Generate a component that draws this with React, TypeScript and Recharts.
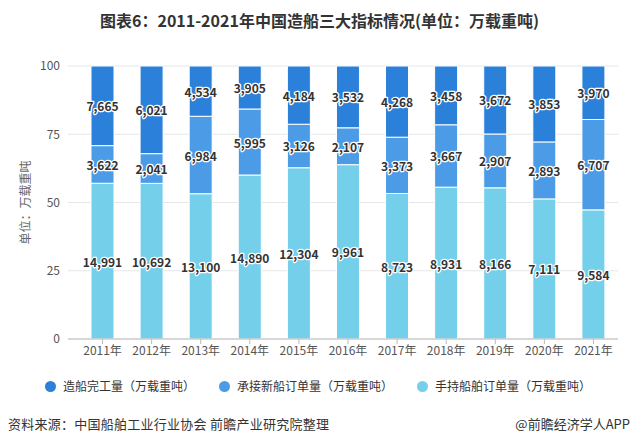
import React from 'react'
import { BarChart, Bar, XAxis, YAxis, CartesianGrid, LabelList } from 'recharts'

const years = ['2011年', '2012年', '2013年', '2014年', '2015年', '2016年', '2017年', '2018年', '2019年', '2020年', '2021年']
const completed = [7665, 6021, 4534, 3905, 4184, 3532, 4268, 3458, 3672, 3853, 3970]
const newOrders = [3622, 2041, 6984, 5995, 3126, 2107, 3373, 3667, 2907, 2893, 6707]
const holding = [14991, 10692, 13100, 14890, 12304, 9961, 8723, 8931, 8166, 7111, 9584]
const yTicks = [0, 0.25, 0.5, 0.75, 1]

const series = [
  { key: 'completed', name: '造船完工量（万载重吨）', color: '#2b80d9' },
  { key: 'newOrders', name: '承接新船订单量（万载重吨）', color: '#4c9be6' },
  { key: 'holding', name: '手持船舶订单量（万载重吨）', color: '#74cfea' },
]

const data = years.map((year, i) => ({
  year,
  completed: completed[i],
  newOrders: newOrders[i],
  holding: holding[i],
}))

const FONT = '"Noto Sans CJK SC", "Noto Sans", sans-serif'

const renderLabel = (props: any) => {
  const { x, y, width, height, value } = props
  return (
    <text
      x={x + width / 2}
      y={y + height / 2}
      textAnchor="middle"
      dominantBaseline="central"
      fontSize={12}
      fontWeight="bold"
      fontFamily={FONT}
      fill="#333"
      stroke="#fff"
      strokeWidth={2.5}
      strokeLinejoin="round"
      paintOrder="stroke"
    >
      {Number(value).toLocaleString('en-US')}
    </text>
  )
}

// legend lists bottom series last, so draw stacks bottom-up
const stackOrder = [...series].reverse()

export default function App() {
  return (
    <div style={{ position: 'absolute', left: 0, top: 0, width: 635, height: 442, background: '#fff', fontFamily: FONT }}>
      <div style={{ position: 'absolute', top: 8, left: 2, width: 635, textAlign: 'center', fontSize: 16, fontWeight: 'bold', color: '#333' }}>
        图表6：2011-2021年中国造船三大指标情况(单位：万载重吨)
      </div>

      <div style={{ position: 'absolute', left: 0, top: 0 }}>
        <BarChart
          width={635}
          height={442}
          data={data}
          stackOffset="expand"
          margin={{ top: 66, right: 17, bottom: 73, left: 0 }}
          barSize={23}
        >
          <CartesianGrid vertical={false} stroke="#e6e6e6" />
          <XAxis
            dataKey="year"
            padding={{ left: 10, right: 0 }}
            tick={{ fill: '#555', fontSize: 12, fontFamily: FONT }}
            tickLine={{ stroke: '#bbb' }}
            tickSize={5}
            axisLine={{ stroke: '#bbb' }}
            interval={0}
          />
          <YAxis
            width={68}
            ticks={yTicks}
            domain={[0, 1]}
            tickFormatter={(v) => String(Math.round(v * 100))}
            tick={{ fill: '#555', fontSize: 12, fontFamily: FONT }}
            tickLine={false}
            axisLine={false}
            label={{ value: '单位：万载重吨', angle: -90, position: 'center', dx: -8, fill: '#666', fontSize: 12, fontFamily: FONT }}
          />
          {stackOrder.map((s) => (
            <Bar key={s.key} dataKey={s.key} name={s.name} stackId="a" fill={s.color} stroke="#fff" strokeWidth={1} isAnimationActive={false}>
              <LabelList dataKey={s.key} content={renderLabel} />
            </Bar>
          ))}
        </BarChart>
      </div>

      <div style={{ position: 'absolute', top: 378, left: 45, display: 'flex', fontSize: 12, color: '#333', lineHeight: '16px' }}>
        {series.map((s) => (
          <div key={s.key} style={{ display: 'flex', alignItems: 'center', marginRight: 24 }}>
            <span style={{ width: 11, height: 11, borderRadius: 6, background: s.color, marginRight: 7, display: 'inline-block' }} />
            <span>{s.name}</span>
          </div>
        ))}
      </div>

      <div style={{ position: 'absolute', top: 414, left: 8, fontSize: 13, color: '#333', letterSpacing: 0.25 }}>
        资料来源：中国船舶工业行业协会 前瞻产业研究院整理
      </div>
      <div style={{ position: 'absolute', top: 414, right: 5, fontSize: 13, color: '#333' }}>
        @前瞻经济学人APP
      </div>
    </div>
  )
}
